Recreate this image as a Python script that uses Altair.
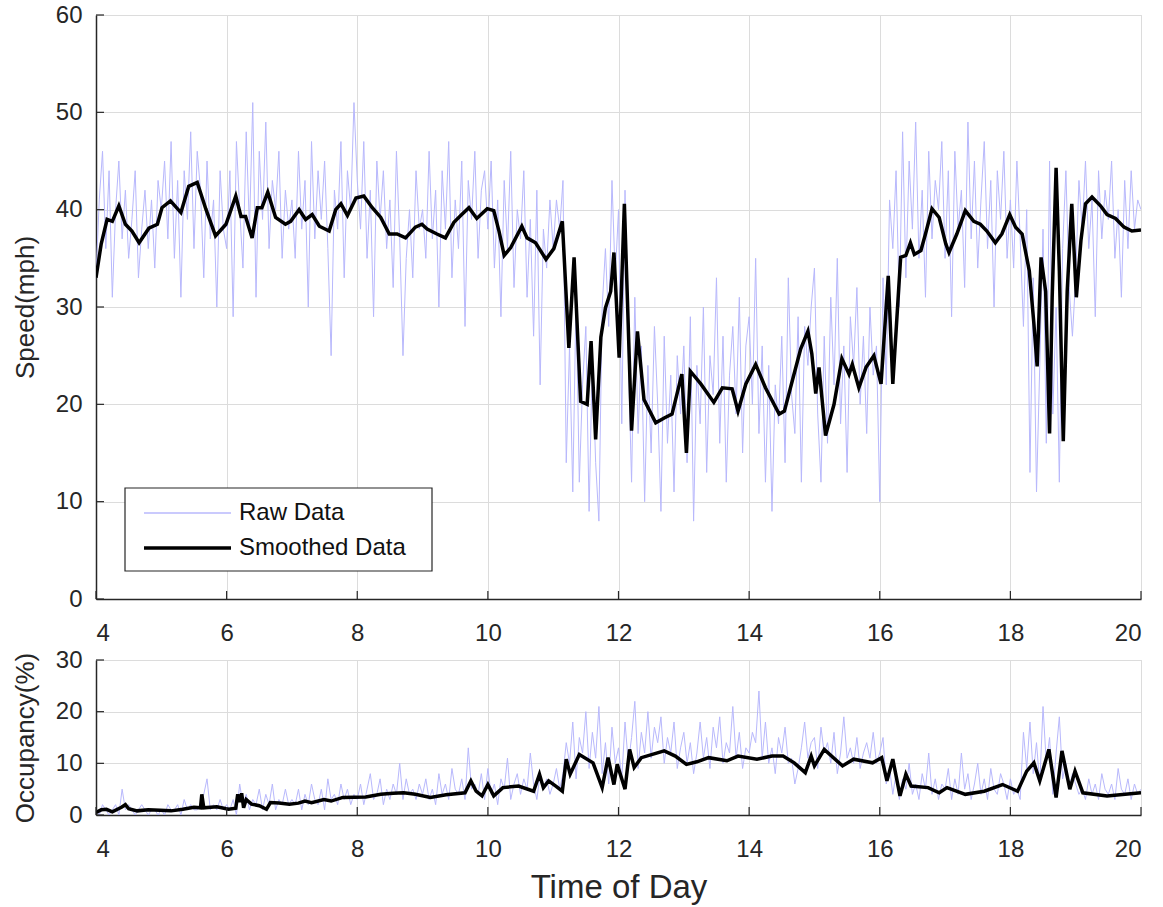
import altair as alt
import pandas as pd

FONT = "Liberation Sans"
TXT = "#262626"

# ---------------- data ----------------
x_ticks = [4, 6, 8, 10, 12, 14, 16, 18, 20]
speed_ticks = [0, 10, 20, 30, 40, 50, 60]
occ_ticks = [0, 10, 20, 30]

# raw speed, one value every 0.05 h from 4.00 to 20.00
raw_speed = [
    33, 41, 46, 36, 44, 31, 40, 45, 37, 42, 35, 39, 44, 33, 38, 42, 36, 41, 34, 43,
    40, 45, 37, 47, 35, 43, 31, 44, 39, 48, 36, 46, 42, 33, 45, 37, 41, 30, 44, 38,
    36, 44, 29, 47, 40, 34, 48, 38, 51, 31, 46, 39, 49, 36, 43, 40, 46, 35, 42, 38,
    41, 35, 46, 38, 43, 30, 47, 37, 44, 39, 45, 36, 25, 42, 38, 47, 33, 44, 40, 51,
    43, 38, 47, 35, 42, 29, 45, 39, 44, 36, 41, 32, 46, 37, 25, 35, 40, 33, 44, 38,
    40, 35, 46, 37, 42, 30, 44, 38, 47, 33, 41, 36, 45, 28, 43, 39, 46, 35, 42, 44,
    38, 45, 34, 41, 29, 43, 36, 46, 32, 40, 37, 44, 31, 39, 27, 42, 22, 38, 34, 41,
    36, 41, 38, 43, 14, 26, 11, 31, 12, 22, 28, 9, 25, 14, 8, 30, 36, 28, 43, 33,
    40, 18, 42, 25, 12, 31, 17, 26, 10, 24, 15, 28, 20, 9, 27, 16, 23, 11, 25, 19,
    26, 14, 29, 8, 24, 18, 30, 13, 25, 21, 33, 16, 27, 12, 23, 28, 19, 31, 15, 26,
    29, 20, 35, 17, 26, 12, 24, 9, 22, 18, 27, 14, 33, 21, 17, 29, 12, 28, 24, 30,
    34, 19, 12, 27, 16, 31, 22, 35, 18, 26, 13, 29, 24, 32, 20, 27, 17, 30, 23, 26,
    10, 33, 22, 41, 36, 44, 30, 48, 33, 45, 38, 49, 35, 42, 31, 46, 37, 43, 40, 47,
    35, 44, 29, 46, 38, 42, 32, 49, 37, 45, 34, 41, 47, 36, 43, 30, 44, 39, 46, 35,
    41, 34, 45, 37, 28, 40, 13, 33, 11, 24, 38, 16, 45, 19, 30, 12, 36, 44, 32, 27,
    33, 43, 38, 45, 36, 41, 29, 44, 37, 42, 39, 45, 35, 40, 31, 43, 36, 44, 38, 41,
    40,
]

# raw occupancy, same time stamps
raw_occ = [
    1, 0, 2, 1, 0, 1, 2, 0, 5, 1, 2, 1, 0, 1, 2, 1, 0, 1, 1, 0,
    1, 0, 2, 1, 1, 2, 0, 3, 1, 2, 1, 1, 2, 4, 7, 1, 2, 1, 3, 1,
    2, 1, 3, 0, 6, 2, 4, 1, 3, 2, 5, 1, 4, 2, 6, 1, 3, 2, 5, 2,
    3, 2, 5, 1, 4, 2, 6, 3, 2, 5, 1, 7, 3, 4, 2, 6, 3, 5, 2, 4,
    3, 6, 2, 5, 8, 3, 4, 7, 2, 5, 3, 6, 4, 10, 3, 7, 4, 5, 3, 6,
    4, 7, 3, 5, 2, 8, 4, 6, 3, 9, 5, 4, 7, 3, 13, 5, 6, 4, 8, 3,
    9, 4, 6, 2, 7, 5, 11, 3, 6, 8, 4, 7, 5, 12, 6, 3, 8, 5, 7, 4,
    6, 9, 5, 8, 14, 10, 18, 7, 15, 12, 20, 9, 16, 11, 21, 8, 14, 6, 17, 10,
    13, 7, 18, 10, 15, 22, 9, 16, 12, 20, 11, 17, 14, 19, 10, 15, 12, 18, 9, 13,
    16, 10, 14, 8, 12, 18, 11, 15, 9, 17, 13, 19, 10, 14, 12, 21, 11, 16, 9, 13,
    12, 16, 14, 24, 11, 18, 10, 13, 8, 15, 12, 17, 10, 11, 6, 9, 13, 18, 11, 14,
    15, 9, 17, 12, 14, 10, 16, 8, 12, 19, 11, 13, 10, 15, 9, 12, 14, 11, 16, 10,
    12, 15, 6, 9, 4, 8, 3, 7, 5, 10, 4, 6, 3, 8, 5, 12, 4, 7, 3, 6,
    5, 9, 3, 7, 4, 12, 5, 8, 3, 6, 10, 4, 7, 3, 9, 5, 4, 8, 6, 3,
    7, 4, 5, 3, 16, 9, 18, 8, 14, 6, 21, 10, 15, 4, 12, 19, 7, 10, 5, 8,
    6, 4, 5, 3, 7, 4, 6, 3, 8, 5, 4, 6, 3, 9, 5, 4, 7, 3, 6, 4,
    5,
]

smooth_speed_t = [
    4.00, 4.08, 4.17, 4.25, 4.35, 4.45, 4.55, 4.66, 4.81, 4.94, 5.01, 5.14, 5.30, 5.42, 5.55,
    5.68, 5.83, 5.99, 6.14, 6.22, 6.29, 6.39, 6.47, 6.54, 6.63, 6.75, 6.90, 6.98, 7.11, 7.21,
    7.31, 7.42, 7.57, 7.67, 7.75, 7.85, 7.98, 8.10, 8.23, 8.36, 8.49, 8.61, 8.74, 8.89, 8.99,
    9.07, 9.22, 9.35, 9.48, 9.60, 9.71, 9.83, 9.99, 10.09, 10.17, 10.25, 10.35, 10.52, 10.60,
    10.73, 10.89, 11.01, 11.14, 11.24, 11.32, 11.42, 11.52, 11.58, 11.65, 11.73, 11.80, 11.88,
    11.93, 12.01, 12.09, 12.20, 12.29, 12.39, 12.57, 12.70, 12.82, 12.97, 13.04, 13.10, 13.26,
    13.46, 13.59, 13.74, 13.83, 13.95, 14.10, 14.25, 14.46, 14.54, 14.66, 14.79, 14.90, 14.96,
    15.02, 15.07, 15.17, 15.30, 15.42, 15.53, 15.58, 15.68, 15.79, 15.91, 16.02, 16.13, 16.20,
    16.32, 16.40, 16.47, 16.53, 16.63, 16.70, 16.80, 16.91, 17.01, 17.06, 17.18, 17.31, 17.44,
    17.54, 17.64, 17.77, 17.87, 17.99, 18.08, 18.18, 18.29, 18.36, 18.41, 18.47, 18.54, 18.60,
    18.64, 18.70, 18.75, 18.81, 18.87, 18.94, 19.01, 19.08, 19.15, 19.25, 19.38, 19.48, 19.61,
    19.74, 19.86, 20.00,
]
smooth_speed_v = [
    33.0, 36.5, 39.0, 38.8, 40.4, 38.5, 37.8, 36.6, 38.1, 38.5, 40.2, 40.9, 39.7, 42.4, 42.8,
    40.1, 37.3, 38.5, 41.4, 39.3, 39.3, 37.1, 40.2, 40.2, 41.8, 39.2, 38.5, 38.8, 40.0, 39.0,
    39.5, 38.3, 37.8, 40.0, 40.6, 39.4, 41.2, 41.4, 40.2, 39.2, 37.5, 37.5, 37.1, 38.2, 38.5,
    38.0, 37.5, 37.1, 38.7, 39.5, 40.2, 39.1, 40.1, 39.9, 37.8, 35.3, 36.1, 38.3, 37.1,
    36.6, 34.9, 36.0, 38.8, 25.8, 35.1, 20.3, 20.0, 26.5, 16.4, 26.9, 29.9, 31.6,
    35.6, 24.8, 40.6, 17.3, 27.5, 20.5, 18.1, 18.6, 19.0, 23.1, 15.0, 23.4, 22.1,
    20.2, 21.7, 21.6, 19.3, 22.1, 24.1, 21.7, 19.0, 19.3, 22.4, 25.7, 27.5, 25.2,
    21.1, 23.8, 16.8, 20.0, 24.7, 23.1, 24.1, 21.7, 23.8, 25.0, 22.1, 33.2, 22.1,
    35.1, 35.3, 36.6, 35.4, 35.8, 37.5, 40.1, 39.2, 36.5, 35.6, 37.5, 39.9, 38.8,
    38.5, 37.8, 36.6, 37.5, 39.5, 38.2, 37.5, 33.7, 28.3, 23.9, 35.1, 31.6, 17.0,
    31.0, 44.3, 33.7, 16.2, 31.6, 40.6, 31.0, 36.8, 40.6, 41.3, 40.4, 39.5, 39.1,
    38.2, 37.8, 37.9,
]

smooth_occ_t = [
    4.00, 4.08, 4.16, 4.25, 4.39, 4.45, 4.50, 4.63, 4.80, 4.98, 5.15, 5.33, 5.50, 5.60, 5.62,
    5.65, 5.85, 6.03, 6.14, 6.17, 6.20, 6.23, 6.26, 6.30, 6.38, 6.50, 6.61, 6.67, 6.80, 6.96,
    7.10, 7.20, 7.30, 7.49, 7.60, 7.78, 8.13, 8.36, 8.55, 8.71, 8.89, 9.12, 9.36, 9.65, 9.74,
    9.82, 9.91, 10.00, 10.09, 10.23, 10.47, 10.70, 10.79, 10.85, 10.93, 11.05, 11.14, 11.20,
    11.26, 11.40, 11.61, 11.75, 11.84, 11.93, 11.98, 12.10, 12.17, 12.24, 12.35, 12.70, 12.87,
    13.04, 13.20, 13.38, 13.66, 13.83, 14.12, 14.35, 14.52, 14.69, 14.86, 14.95, 15.00, 15.15,
    15.43, 15.60, 15.89, 16.03, 16.11, 16.20, 16.31, 16.40, 16.48, 16.74, 16.91, 17.03, 17.31,
    17.60, 17.88, 18.11, 18.25, 18.36, 18.45, 18.59, 18.70, 18.79, 18.91, 18.99, 19.11, 19.48,
    20.00,
]
smooth_occ_v = [
    0.5, 1.0, 1.1, 0.6, 1.5, 2.0, 1.2, 0.8, 1.0, 0.9, 0.8, 1.1, 1.5, 1.4, 4.0,
    1.4, 1.6, 1.1, 1.3, 4.0, 2.5, 4.2, 1.4, 3.0, 2.1, 1.8, 1.1, 2.4, 2.3, 2.1,
    2.3, 2.7, 2.4, 3.0, 2.7, 3.4, 3.5, 4.0, 4.2, 4.3, 4.0, 3.4, 3.9, 4.3, 6.6,
    4.6, 3.7, 5.9, 3.7, 5.3, 5.6, 4.6, 7.9, 5.3, 6.6, 5.5, 4.6, 10.8,
    7.9, 11.7, 10.1, 5.3, 11.1, 5.9, 9.8, 5.0, 12.7, 9.2, 11.1, 12.4, 11.4,
    9.8, 10.3, 11.1, 10.5, 11.4, 10.8, 11.4, 11.4, 10.1, 8.2, 11.4, 9.5, 12.7,
    9.5, 10.8, 10.1, 11.1, 6.6, 10.8, 3.7, 7.9, 5.6, 5.3, 4.3, 5.3, 4.0,
    4.6, 5.9, 4.6, 8.5, 10.1, 6.6, 12.7, 3.4, 12.4, 5.0, 8.5, 4.3, 3.7,
    4.3,
]

series_names = ["Raw Data", "Smoothed Data"]
series_colors = ["#b8b8fc", "#000000"]
series_widths = [1.0, 3.5]

raw_t = [round(4 + 0.05 * i, 2) for i in range(len(raw_speed))]

W = 1045


def legend_layers():
    """Legend key drawn inside the upper panel (box, line samples, labels)."""
    layers = [
        alt.Chart(pd.DataFrame({"k": [0]})).mark_rect(
            fill="white", stroke=TXT, strokeWidth=1.2
        ).encode(x=alt.value(29), x2=alt.value(336), y=alt.value(473), y2=alt.value(556))
    ]
    for i, name in enumerate(series_names):
        row = pd.DataFrame({"series": [name]})
        yy = 498 + 35 * i
        layers.append(
            alt.Chart(row).mark_rule(color=series_colors[i], strokeWidth=max(series_widths[i], 1.5) if i == 0 else series_widths[i]).encode(
                x=alt.value(48), x2=alt.value(135), y=alt.value(yy))
        )
        layers.append(
            alt.Chart(row).mark_text(
                align="left", baseline="middle", font=FONT, fontSize=24, color="#111111"
            ).encode(text="series:N", x=alt.value(143), y=alt.value(yy))
        )
    return layers


def panel(raw_vals, st, sv, ymax, yticks, ytitle, H, xtitle, show_legend):
    df = pd.DataFrame({
        "t": raw_t + st,
        "v": raw_vals + sv,
        "series": [series_names[0]] * len(raw_vals) + [series_names[1]] * len(sv),
    })
    xaxis = alt.Axis(values=x_ticks, format="d", title=xtitle, ticks=False, grid=True)
    yaxis = alt.Axis(values=yticks, format="d", title=ytitle, ticks=False, grid=True)
    x = alt.X("t:Q", scale=alt.Scale(domain=[4, 20], nice=False, zero=False), axis=xaxis)
    y = alt.Y("v:Q", scale=alt.Scale(domain=[0, ymax], nice=False), axis=yaxis)
    lines = alt.Chart(df).mark_line(clip=True).encode(
        x=x, y=y,
        color=alt.Color("series:N", scale=alt.Scale(domain=series_names, range=series_colors), legend=None),
        strokeWidth=alt.StrokeWidth("series:N", scale=alt.Scale(domain=series_names, range=series_widths), legend=None),
    )
    xt = alt.Chart(pd.DataFrame({"t": x_ticks})).mark_rule(color=TXT, strokeWidth=1.2).encode(
        x="t:Q", y=alt.value(H), y2=alt.value(H - 8))
    yt = alt.Chart(pd.DataFrame({"v": yticks})).mark_rule(color=TXT, strokeWidth=1.2).encode(
        y="v:Q", x=alt.value(0), x2=alt.value(8))
    layers = [lines, xt, yt]
    if show_legend:
        layers += legend_layers()
    return alt.layer(*layers).properties(width=W, height=H)


top = panel(raw_speed, smooth_speed_t, smooth_speed_v, 60, speed_ticks, "Speed(mph)", 584, None, True)
bottom = panel(raw_occ, smooth_occ_t, smooth_occ_v, 30, occ_ticks, "Occupancy(%)", 155, "Time of Day", False)

chart = alt.vconcat(top, bottom, spacing=1).resolve_scale(
    color="independent", strokeWidth="independent"
).properties(
    padding={"left": 11, "top": 2, "right": 20, "bottom": 5},
    background="white",
).configure_view(
    stroke="#d4d4d4", strokeWidth=1
).configure_axis(
    labelFont=FONT, labelFontSize=24, labelColor=TXT, labelPadding=14,
    titleFont=FONT, titleFontSize=26, titleFontWeight="normal", titleColor=TXT,
    titlePadding=17, domainColor=TXT, domainWidth=1.5,
    gridColor="#dcdcdc", gridWidth=1,
).configure_axisX(labelPadding=22, titlePadding=10, titleFontSize=33)

chart.save("out.html", embed_options={"renderer": "svg", "actions": False})
